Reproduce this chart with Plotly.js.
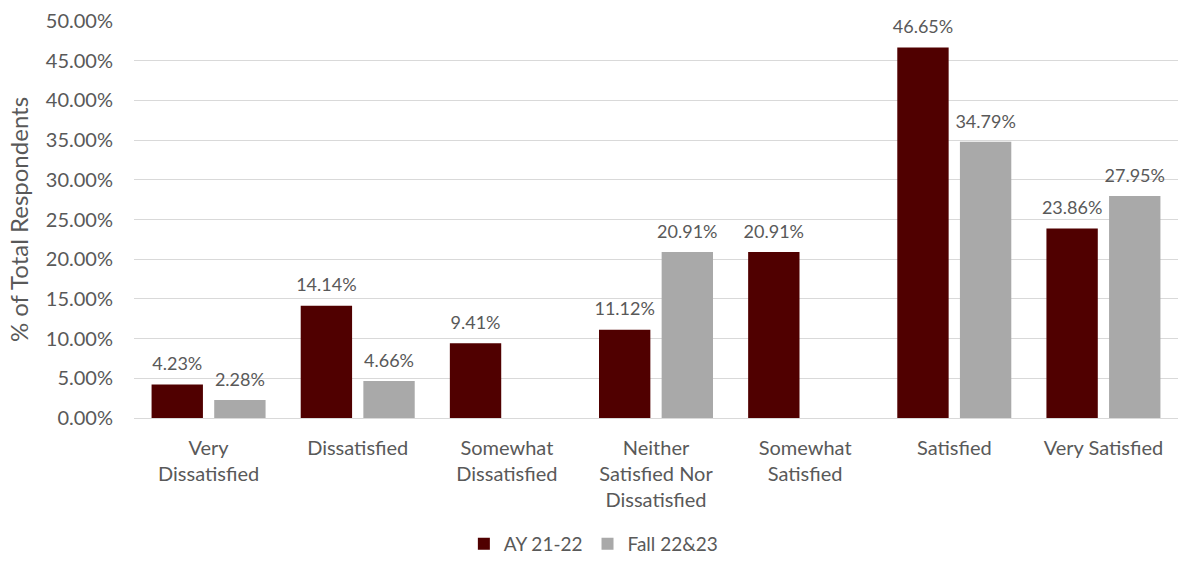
<!DOCTYPE html>
<html>
<head>
<meta charset="utf-8">
<script src="https://cdn.plot.ly/plotly-3.0.1.min.js"></script>
<style>
  html, body { margin: 0; padding: 0; background: #fff; }
  #chart { width: 1181px; height: 566px; }
</style>
</head>
<body>
<div id="chart"></div>
<script>
// Satisfaction categories and the share of respondents in each (percent)
const categories = [
  "Very<br>Dissatisfied",
  "Dissatisfied",
  "Somewhat<br>Dissatisfied",
  "Neither<br>Satisfied Nor<br>Dissatisfied",
  "Somewhat<br>Satisfied",
  "Satisfied",
  "Very Satisfied"
];
const ay2122 = [4.23, 14.14, 9.41, 11.12, 20.91, 46.65, 23.86];
const fall2223 = [2.28, 4.66, null, 20.91, null, 34.79, 27.95];
const yTicks = [0, 5, 10, 15, 20, 25, 30, 35, 40, 45, 50];

const textColor = "#595959";
const font = "Lato, 'Open Sans', sans-serif";

function bars(name, values, color) {
  return {
    type: "bar",
    name: name,
    x: categories,
    y: values,
    marker: { color: color },
    hoverinfo: "x+y"
  };
}

// Value labels: invisible grouped points whose text sits above each bar
function labels(name, values) {
  return {
    type: "scatter",
    mode: "markers+text",
    name: name,
    x: categories,
    y: values,
    marker: { size: 14, opacity: 0 },
    text: values.map(v => v == null ? "" : v.toFixed(2) + "%"),
    textposition: "top center",
    textfont: { family: font, size: 18, color: textColor },
    cliponaxis: false,
    showlegend: false,
    hoverinfo: "skip"
  };
}

const data = [
  bars("AY 21-22", ay2122, "#500000"),
  bars("Fall 22&23", fall2223, "#A9A9A9"),
  labels("AY 21-22", ay2122),
  labels("Fall 22&23", fall2223)
];

const layout = {
  width: 1181,
  height: 566,
  margin: { l: 134, r: 3, t: 21, b: 146 },
  paper_bgcolor: "#ffffff",
  plot_bgcolor: "#ffffff",
  font: { family: font, color: textColor, size: 20 },
  barmode: "group",
  bargap: 0.16,
  bargroupgap: 0.18,
  scattermode: "group",
  scattergap: 0.16,
  showlegend: true,
  legend: {
    orientation: "h",
    x: 0.44, xanchor: "center",
    y: -0.365, yanchor: "bottom",
    font: { family: font, size: 19, color: textColor },
    itemwidth: 30,
    traceorder: "normal"
  },
  xaxis: {
    type: "category",
    automargin: false,
    tickfont: { family: font, size: 20, color: textColor },
    showgrid: false,
    ticks: "",
    ticklabelstandoff: 12,
    showline: true,
    linecolor: "#D9D9D9",
    linewidth: 1
  },
  yaxis: {
    range: [0, 50],
    automargin: false,
    tickvals: yTicks,
    ticktext: yTicks.map(v => v.toFixed(2) + "%"),
    tickfont: { family: font, size: 20, color: textColor },
    showgrid: true,
    gridcolor: "#D9D9D9",
    gridwidth: 1,
    zeroline: false,
    ticks: "",
    ticklabelstandoff: 20,
    title: {
      text: "% of Total Respondents",
      font: { family: font, size: 24, color: textColor },
      standoff: 10
    }
  }
};

Plotly.newPlot("chart", data, layout, { staticPlot: true, displayModeBar: false });
</script>
</body>
</html>
